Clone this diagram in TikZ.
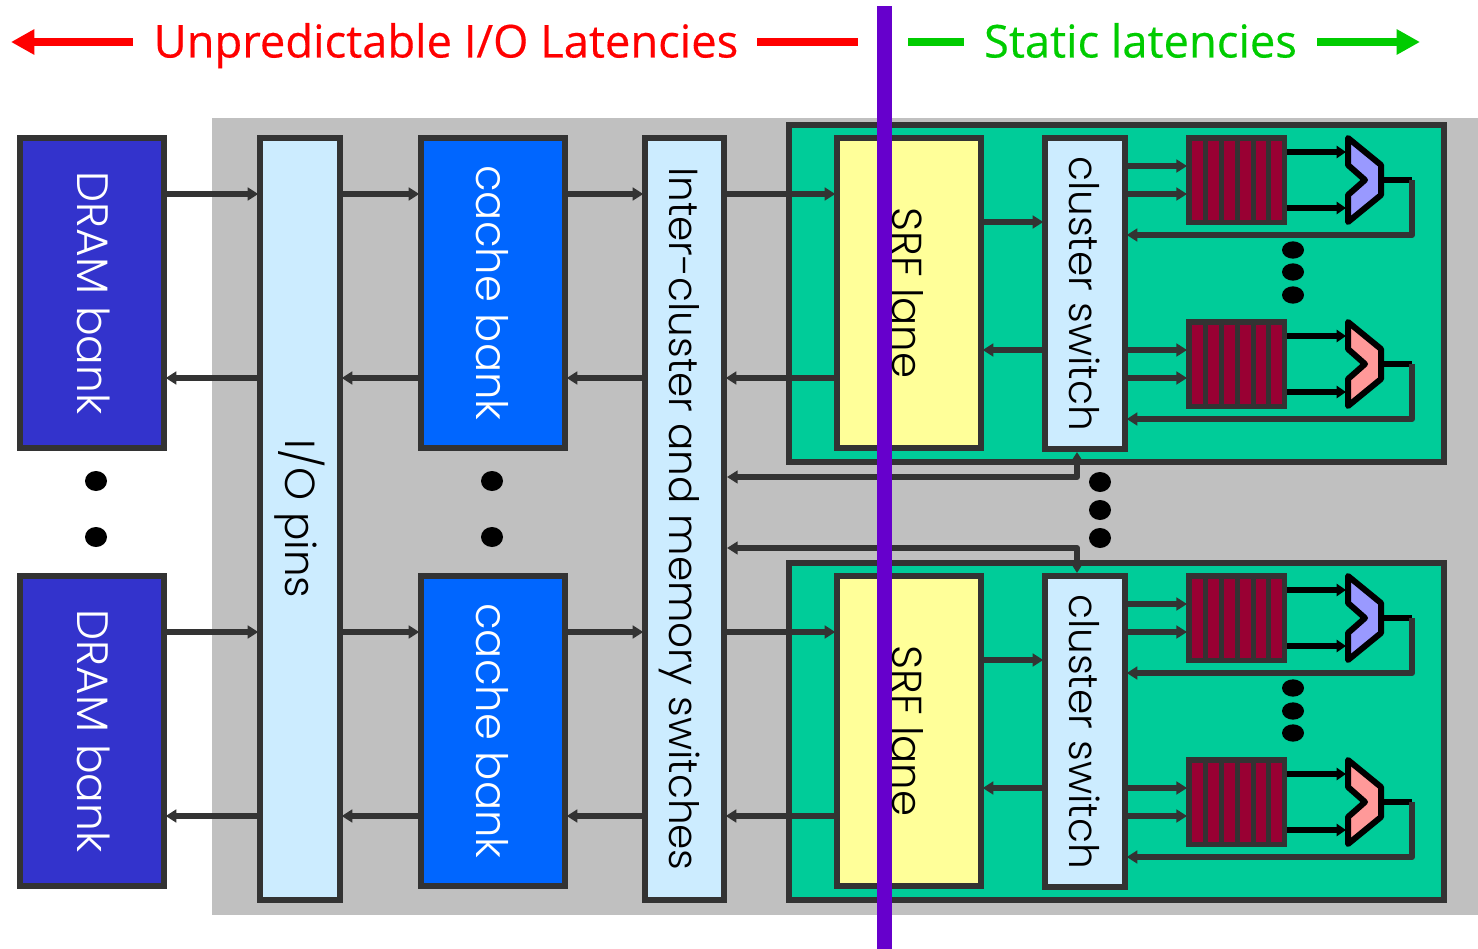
\documentclass[tikz,border=0pt]{standalone}
\usepackage{graphicx}
\usepackage{fontspec}
\setmainfont{Poppins}[UprightFont=* Light]
\newfontfamily\topfont{Open Sans}[FakeBold=0.35]
\usetikzlibrary{arrows.meta,calc,shapes.geometric}
\definecolor{strk}{HTML}{333333}
\definecolor{dramc}{HTML}{3333CC}
\definecolor{cachec}{HTML}{0066FF}
\definecolor{paleb}{HTML}{CCECFF}
\definecolor{yell}{HTML}{FFFF99}
\definecolor{greenb}{HTML}{00CC99}
\definecolor{greyb}{HTML}{C0C0C0}
\definecolor{qred}{HTML}{990033}
\definecolor{purp}{HTML}{6600CC}
\definecolor{topgreen}{HTML}{00CC00}
\definecolor{muxb}{HTML}{9999FF}
\definecolor{muxr}{HTML}{FF9999}
\tikzset{
  x=0.75pt,y=-0.75pt,
  boxn/.style={draw=strk,line width=4.5pt,rectangle,inner sep=0pt},
  conn/.style={draw=strk,line width=4.4pt,-{Triangle[length=8pt,width=9.5pt]},shorten >=-1pt},
  conn2/.style={draw=strk,line width=4.4pt,line join=round,{Triangle[length=8pt,width=9.5pt]}-{Triangle[length=8pt,width=9.5pt]}},
  blk/.style={draw=black,line width=4pt,-{Triangle[length=7pt,width=9pt]}},
  blkw/.style={draw=black,line width=4pt},
  dotn/.style={fill=black,ellipse,inner sep=0pt,minimum width=16.5pt,minimum height=15pt},
  muxp/.style={draw=black,line width=4.5pt,line join=round},
  toptxt/.style={font=\topfont\fontsize{34}{36}\selectfont,inner sep=0pt,anchor=base},
  topb/.style={line width=6pt},
}
% name, x0,y0,x1,y1 (centre-line of border), options, text
\newcommand{\bxn}[7]{%
  \node[boxn,#6,minimum width=(#4-#2)*0.75pt,minimum height=(#5-#3)*0.75pt] (#1) at ({(#2+#4)/2},{(#3+#5)/2}) {#7};}
% colour, size, text
\newcommand{\rtxt}[3]{\rotatebox{-90}{\fontsize{#2}{32}\selectfont\color{#1}#3}}
\begin{document}
\begin{tikzpicture}
\useasboundingbox (0,0) rectangle (1478,949);
% backgrounds
\fill[white] (0,0) rectangle (1478,949);
\fill[greyb] (212,118) rectangle (1478,915);
\bxn{gr1}{789}{125}{1444}{462}{fill=greenb}{}
\bxn{gr2}{789}{563}{1444}{900}{fill=greenb}{}
% left columns
\bxn{dram1}{20}{138}{164}{448}{fill=dramc}{\kern2.5pt\rtxt{white}{33}{DRAM bank}}
\bxn{dram2}{20}{576}{164}{886}{fill=dramc}{\kern2.5pt\rtxt{white}{33}{DRAM bank}}
\bxn{io}{260}{138}{340}{900}{fill=paleb}{\rtxt{black}{31.5}{I/O pins}}
\bxn{cache1}{421}{138}{565}{448}{fill=cachec}{\kern-1pt\rtxt{white}{32.5}{cache bank}}
\bxn{cache2}{421}{576}{565}{886}{fill=cachec}{\kern-1pt\rtxt{white}{32.5}{cache bank}}
\bxn{inter}{645}{138}{724}{900}{fill=paleb}{\kern-7.5pt\rtxt{black}{30.4}{Inter-cluster and memory switches}}
\bxn{srf1}{837}{138}{981}{448}{fill=yell}{}
\bxn{srf2}{837}{576}{981}{886}{fill=yell}{}
\bxn{sw1}{1045}{138}{1125}{449}{fill=paleb}{\kern-1pt\rtxt{black}{30.5}{cluster switch}}
\bxn{sw2}{1045}{576}{1125}{887}{fill=paleb}{\kern-1pt\rtxt{black}{30.5}{cluster switch}}
% queues
\foreach \nm/\ty in {q1/135,q2/319,q3/573,q4/757}{
  \node[rectangle,fill=strk,inner sep=0pt,minimum width=101*0.75pt,minimum height=90*0.75pt] (\nm) at (1236.5,\ty+45) {};
  \foreach \bx in {1192,1208,1224,1240,1255.5,1271}
    \fill[qred] (\bx,\ty+6) rectangle (\bx+10.5,\ty+85);
}
% muxes
\foreach \nm/\ty/\col in {m1/138/muxb,m2/322/muxr,m3/576/muxb,m4/760/muxr}{
  \filldraw[muxp,fill=\col] (1348,\ty) -- (1381,\ty+27) -- (1381,\ty+57) -- (1348,\ty+84) -- (1348,\ty+57) -- (1365,\ty+42) -- (1348,\ty+27) -- cycle;
  \coordinate (\nm in1) at (1346,\ty+14);
  \coordinate (\nm in2) at (1346,\ty+70);
  \coordinate (\nm out) at (1383,\ty+42);
  \coordinate (\nm turn) at (1412,\ty+42);
  \coordinate (\nm back) at (1412,\ty+97);
}
% row coordinates
\foreach \nm/\yy in {ra/194,rb/378,rc/632,rd/816,sa/222,sb/350,sc/660,sd/788,ia/477,ib/548}
  \coordinate (\nm) at (0,\yy);
% horizontal links
\foreach \ro/\rb/\aa/\ab/\ac/\ad/\ae in {ra/rb/dram1/io/cache1/inter/srf1,rc/rd/dram2/io/cache2/inter/srf2}{
  \draw[conn] (\aa.east |- \ro) -- (\ab.west |- \ro);
  \draw[conn] (\ab.east |- \ro) -- (\ac.west |- \ro);
  \draw[conn] (\ac.east |- \ro) -- (\ad.west |- \ro);
  \draw[conn] (\ad.east |- \ro) -- (\ae.west |- \ro);
  \draw[conn] (\ae.west |- \rb) -- (\ad.east |- \rb);
  \draw[conn] (\ad.west |- \rb) -- (\ac.east |- \rb);
  \draw[conn] (\ac.west |- \rb) -- (\ab.east |- \rb);
  \draw[conn] (\ab.west |- \rb) -- (\aa.east |- \rb);
}
% SRF to switch
\draw[conn] (srf1.east |- sa) -- (sw1.west |- sa);
\draw[conn] (sw1.west |- sb) -- (srf1.east |- sb);
\draw[conn] (srf2.east |- sc) -- (sw2.west |- sc);
\draw[conn] (sw2.west |- sd) -- (srf2.east |- sd);
% switch, queues, muxes
\foreach \sw/\qq/\mm in {sw1/q1/m1,sw1/q2/m2,sw2/q3/m3,sw2/q4/m4}{
  \coordinate (qup) at ($(\qq.west)+(0,-14)$);
  \coordinate (qdn) at ($(\qq.west)+(0,14)$);
  \draw[conn] (qup -| \sw.east) -- (qup);
  \draw[conn] (qdn -| \sw.east) -- (qdn);
  \draw[blk] (\mm in1 -| \qq.east) -- (\mm in1);
  \draw[blk] (\mm in2 -| \qq.east) -- (\mm in2);
  \draw[blkw] (\mm out) -- (\mm turn);
  \draw[conn,line join=round] (\mm turn) -- (\mm back) -- (\mm back -| \sw.east);
}
% inter-cluster links
\coordinate (ja) at (1077,477);
\coordinate (jb) at (1077,548);
\draw[conn2] (ja -| inter.east) -- (ja) -- (ja |- sw1.south);
\draw[conn2] (jb -| inter.east) -- (jb) -- (jb |- sw2.north);
% dots
\foreach \nm/\px/\py in {d1/96/481,d2/96/537,d3/492/481,d4/492/537,d5/1100/482,d6/1100/510,d7/1100/538}
  \node[dotn] (\nm) at (\px,\py) {};
\foreach \nm/\py in {e1/250,e2/272,e3/295,e4/688,e5/711,e6/733}
  \node[dotn,minimum height=13pt] (\nm) at (1293,\py) {};
% divider
\node[rectangle,fill=purp,inner sep=0pt,minimum width=11.5pt,minimum height=943*0.75pt] (divider) at (884.5,477.5) {};
\node (srft1) at (908,293) {\rtxt{black}{31.4}{SRF lane}};
\node (srft2) at (908,731) {\rtxt{black}{31.4}{SRF lane}};
% top labels
\node[toptxt,text=red] (tl) at (446,57.5) {Unpredictable I/O Latencies};
\node[toptxt,text=topgreen] (tr) at (1140.5,57.5) {Static latencies};
\coordinate (al) at (11,42); \coordinate (bl) at (858,42);
\coordinate (am) at (133,42); \coordinate (bm) at (757,42);
\coordinate (ar) at (1420,42); \coordinate (br) at (908,42);
\coordinate (cm) at (964,42); \coordinate (dm) at (1317,42);
\draw[red,topb,-{Triangle[length=17.5pt,width=18pt]}] (am) -- (al);
\draw[red,topb] (bm) -- (bl);
\draw[topgreen,topb] (br) -- (cm);
\draw[topgreen,topb,-{Triangle[length=17.5pt,width=18pt]}] (dm) -- (ar);
\end{tikzpicture}
\end{document}
